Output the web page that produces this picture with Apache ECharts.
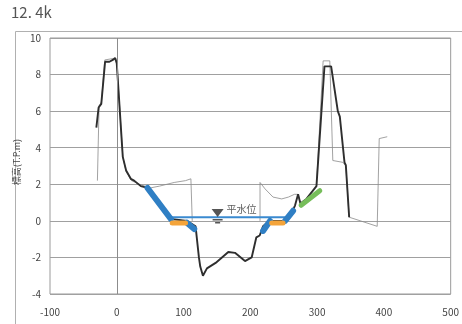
<!DOCTYPE html>
<html>
<head>
<meta charset="utf-8">
<script src="https://cdn.jsdelivr.net/npm/echarts@6/dist/echarts.min.js"></script>
<style>html,body{margin:0;padding:0;background:#fff}#c{width:462px;height:324px}</style>
</head>
<body>
<div id="c"></div>
<script>
const titleText = "12. 4k";
const yName = "標高(T.P.m)";
const xTicks = [-100, 0, 100, 200, 300, 400, 500];
const yTicks = [-4, -2, 0, 2, 4, 6, 8, 10];

// current cross-section (thick black)
const currentLine = [[-30.6,5.1],[-27.2,6.2],[-23.2,6.4],[-17.5,8.7],[-11,8.7],[-6,8.8],[-2.4,8.9],[0,8.6],[9,3.5],[14,2.75],[21,2.3],[26,2.2],[36,1.9],[46,1.8],[81,0.1],[105,0.0],[118,-0.3],[123,-2.0],[125,-2.5],[129,-3.0],[135,-2.6],[148,-2.3],[167,-1.7],[177,-1.75],[192,-2.2],[202,-2.0],[209,-0.9],[214,-0.8],[219,-0.3],[229,0.0],[250,0.0],[264,0.6],[267,0.85],[271.5,1.45],[275,0.95],[284,1.2],[299,1.9],[311,8.45],[321,8.45],[331,6.0],[334,5.7],[341,3.2],[343,3.05],[348,0.2]];

// old cross-section (thin grey), two pieces
const oldLineA = [[-29,2.2],[-26.5,2.2],[-26.5,6.3],[-23,6.5],[-18,8.8],[-2,8.9],[0,8.7],[9,3.5],[14,2.7],[22,2.2],[34,2.0],[50,1.8],[64,1.9],[86,2.1],[103,2.2],[111,2.3],[113,2.2],[113,0.0]];
const oldLineB = [[214.5,0.0],[214.5,2.1],[222,1.75],[234,1.3],[247,1.2],[257,1.3],[266,1.45],[271.5,1.45],[275,0.95],[284,1.2],[299,1.9],[309,8.75],[319,8.75],[323.5,3.3],[338.5,3.2],[343,3.0],[348,0.2],[390,-0.3],[393,4.5],[405,4.6]];

// revetment segments
const blueSegs = [[[46,1.8],[81,0.1]],[[105,-0.1],[116,-0.45]],[[219,-0.55],[229.5,0.0]],[[252,0.0],[264,0.55]]];
const orangeSegs = [[[83,-0.12],[103,-0.12]],[[232,-0.12],[249,-0.12]]];
const greenSegs = [[[276,0.85],[304,1.65]]];

// normal water level
const waterLevel = [[80,0.2],[258,0.2]];
const waterMark = [[151,0.2]];
const waterLabel = "平水位";

const chart = echarts.init(document.getElementById('c'), null, {renderer:'canvas'});
const FONT = '"Noto Sans CJK JP","Noto Sans",sans-serif';

function segSeries(segs, color, width, z) {
  return segs.map(s => ({
    type:'line', data:s, showSymbol:false, silent:true, z:z,
    lineStyle:{color:color, width:width, cap:'round'}
  }));
}

const series = [
  {type:'line', data:oldLineA, showSymbol:false, silent:true, z:2,
   lineStyle:{color:'#8a8a8a', width:0.8}},
  {type:'line', data:oldLineB, showSymbol:false, silent:true, z:2,
   lineStyle:{color:'#8a8a8a', width:0.8},
   markLine:{silent:true, symbol:'none', label:{show:false},
     lineStyle:{color:'#8c8c8c', width:1, type:'solid'}, data:[{xAxis:0}]}},
  {type:'line', data:currentLine, showSymbol:false, silent:true, z:3,
   lineStyle:{color:'#2e2e2e', width:1.9}},
  {type:'line', data:waterLevel, showSymbol:false, silent:true, z:4,
   lineStyle:{color:'#3a8ad0', width:2}},
  ...segSeries(blueSegs, '#2f7fc4', 6, 5),
  ...segSeries(orangeSegs, '#f4a43a', 5, 5),
  ...segSeries(greenSegs, '#76bd5a', 5, 5),
  {type:'scatter', data:waterMark, silent:true, z:6,
   symbol:'path://M0,0 L12,0 L6,8 Z M1,10 L11,10 L11,11.4 L1,11.4 Z M3.5,13 L8.5,13 L8.5,14.4 L3.5,14.4 Z',
   symbolSize:[12,14.4], symbolOffset:[0,-0.9],
   itemStyle:{color:'#2a2a2a'},
   label:{show:true, position:'right', distance:3, offset:[0,-7], formatter:waterLabel,
     fontSize:10, color:'#333', fontFamily:FONT}}
];

chart.setOption({
  backgroundColor:'#fff',
  animation:false,
  grid:{left:50, right:6, top:38, bottom:30, show:true, borderColor:'#9a9a9a', borderWidth:1, backgroundColor:'transparent'},
  xAxis:{type:'value', min:xTicks[0], max:xTicks[xTicks.length-1], interval:100,
    axisLine:{show:false}, axisTick:{show:false}, splitLine:{show:false},
    axisLabel:{fontSize:10, color:'#444', margin:13, fontFamily:FONT, showMaxLabel:true, showMinLabel:true}},
  yAxis:{type:'value', min:yTicks[0], max:yTicks[yTicks.length-1], interval:2,
    axisLine:{show:false}, axisTick:{show:false},
    splitLine:{show:true, lineStyle:{color:'#a0a0a0', width:1}},
    axisLabel:{fontSize:10, color:'#444', margin:9, fontFamily:FONT}},
  graphic:[
    {type:'rect', left:13, top:29, shape:{width:470, height:320}, silent:true,
     style:{fill:'none', stroke:'#b0b0b0', lineWidth:1}, z:-1},
    {type:'text', left:11, top:5, silent:true,
     style:{text:titleText, fontSize:15, fill:'#555', fontFamily:FONT}},
    {type:'text', x:17, y:162, rotation:Math.PI/2, silent:true,
     style:{text:yName, fontSize:9, fill:'#444', fontFamily:FONT, align:'center', verticalAlign:'middle'}}
  ],
  series:series
});
</script>
</body>
</html>
